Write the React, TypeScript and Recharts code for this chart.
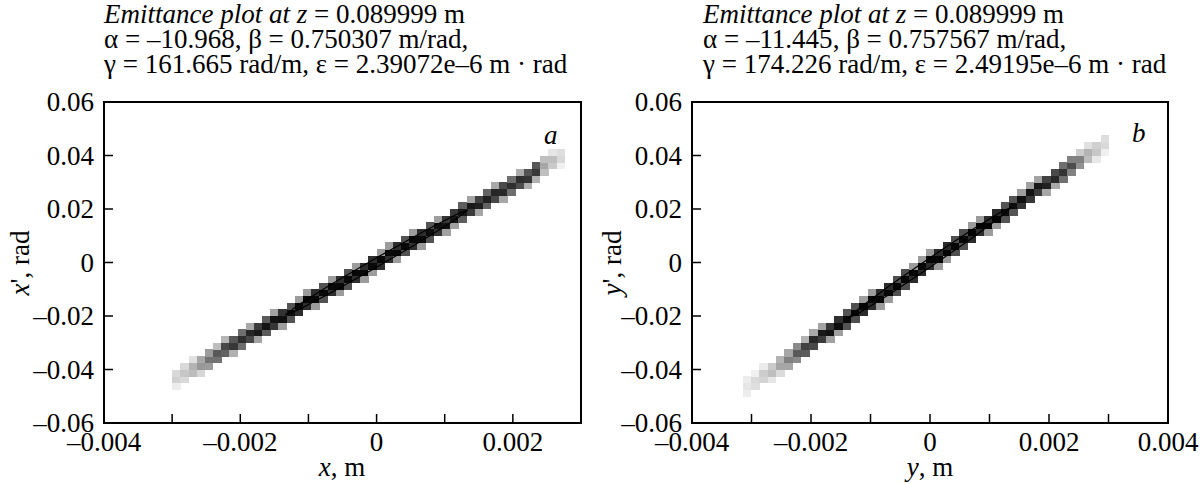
import React from 'react';
import { ScatterChart, Scatter, XAxis, YAxis, ReferenceArea } from 'recharts';

const FONT = '"Liberation Serif", "Times New Roman", serif';
const FS = 27;

// ---------- axes ----------
const yTicks = [-0.06, -0.04, -0.02, 0, 0.02, 0.04, 0.06];
const yLabels = ['–0.06', '–0.04', '–0.02', '0', '0.02', '0.04', '0.06'];
const leftXTicks = [-0.004, -0.003, -0.002, -0.001, 0, 0.001, 0.002, 0.003];
const leftXLabels = ['–0.004', '', '–0.002', '', '0', '', '0.002', ''];
const rightXTicks = [-0.004, -0.003, -0.002, -0.001, 0, 0.001, 0.002, 0.003, 0.004];
const rightXLabels = ['–0.004', '', '–0.002', '', '0', '', '0.002', '', '0.004'];

// ---------- density grid (row pitch in x') ----------
const ROW = 0.0025;

// left panel (x, x') columns
const leftColX = [
  -0.00294, -0.00282, -0.0027, -0.00258, -0.00246, -0.00234, -0.00222, -0.0021, -0.00198, -0.00186,
  -0.00174, -0.00162, -0.0015, -0.00138, -0.00126, -0.00114, -0.00102, -0.0009, -0.00078, -0.00066,
  -0.00054, -0.00042, -0.0003, -0.00018, -0.00006, 0.00006, 0.00018, 0.0003, 0.00042, 0.00054,
  0.00066, 0.00078, 0.0009, 0.00102, 0.00114, 0.00126, 0.00138, 0.0015, 0.00162, 0.00174,
  0.00186, 0.00198, 0.0021, 0.00222, 0.00234, 0.00246, 0.00258, 0.0027,
];
const leftColY0 = [
  -0.04625, -0.04375, -0.04125, -0.04125, -0.03875, -0.03625, -0.03375, -0.03375, -0.03125, -0.02875,
  -0.02875, -0.02625, -0.02375, -0.02375, -0.02125, -0.01875, -0.01625, -0.01625, -0.01375, -0.01125,
  -0.01125, -0.00875, -0.00625, -0.00625, -0.00375, -0.00125, 0.00125, 0.00125, 0.00375, 0.00625,
  0.00625, 0.00875, 0.01125, 0.01125, 0.01375, 0.01625, 0.01875, 0.01875, 0.02125, 0.02375,
  0.02375, 0.02625, 0.02875, 0.02875, 0.03125, 0.03375, 0.03625, 0.03625,
];
const leftShades = [
  [0.07, 0.18, 0.15], [0.15, 0.22, 0.15], [0.26, 0.3, 0.12], [0.16, 0.4, 0.34], [0.39, 0.55, 0.39],
  [0.55, 0.65, 0.26], [0.61, 0.72, 0.29], [0.31, 0.78, 0.66], [0.57, 0.82, 0.57], [0.72, 0.85, 0.34],
  [0.36, 0.9, 0.77], [0.64, 0.92, 0.64], [0.79, 0.93, 0.37], [0.38, 0.94, 0.8], [0.67, 0.95, 0.67],
  [0.82, 0.97, 0.39], [0.82, 0.97, 0.39], [0.39, 0.97, 0.82], [0.68, 0.97, 0.68], [0.82, 0.97, 0.39],
  [0.39, 0.97, 0.82], [0.68, 0.97, 0.68], [0.82, 0.97, 0.39], [0.39, 0.97, 0.82], [0.39, 0.97, 0.82],
  [0.82, 0.97, 0.39], [0.82, 0.97, 0.39], [0.39, 0.97, 0.82], [0.68, 0.97, 0.68], [0.82, 0.97, 0.39],
  [0.39, 0.97, 0.82], [0.67, 0.95, 0.67], [0.8, 0.94, 0.38], [0.37, 0.93, 0.79], [0.37, 0.92, 0.78],
  [0.63, 0.9, 0.63], [0.77, 0.9, 0.36], [0.35, 0.88, 0.75], [0.61, 0.87, 0.61], [0.72, 0.85, 0.34],
  [0.34, 0.84, 0.71], [0.57, 0.82, 0.57], [0.7, 0.82, 0.33], [0.32, 0.8, 0.68], [0.31, 0.78, 0.66],
  [0.25, 0.35, 0.25], [0.21, 0.25, 0.1], [0.06, 0.15, 0.13],
];

// right panel (y, y') columns
const rightColX = [
  -0.00308, -0.00294, -0.0028, -0.00266, -0.00252, -0.00238, -0.00224, -0.0021, -0.00196, -0.00182,
  -0.00168, -0.00154, -0.0014, -0.00126, -0.00112, -0.00098, -0.00084, -0.0007, -0.00056, -0.00042,
  -0.00028, -0.00014, 0, 0.00014, 0.00028, 0.00042, 0.00056, 0.0007, 0.00084, 0.00098,
  0.00112, 0.00126, 0.0014, 0.00154, 0.00168, 0.00182, 0.00196, 0.0021, 0.00224, 0.00238,
  0.00252, 0.00266, 0.0028, 0.00294,
];
const rightColY0 = [
  -0.04875, -0.04625, -0.04375, -0.04375, -0.04125, -0.03875, -0.03625, -0.03375, -0.03125, -0.02875,
  -0.02875, -0.02625, -0.02375, -0.02125, -0.01875, -0.01625, -0.01625, -0.01375, -0.01125, -0.00875,
  -0.00625, -0.00375, -0.00125, -0.00125, 0.00125, 0.00375, 0.00625, 0.00875, 0.01125, 0.01125,
  0.01375, 0.01625, 0.01875, 0.02125, 0.02375, 0.02625, 0.02625, 0.02875, 0.03125, 0.03375,
  0.03625, 0.03875, 0.03875, 0.04125,
];
const rightShades = [
  [0.07, 0.1, 0.07], [0.13, 0.15, 0.06], [0.17, 0.2, 0.08], [0.1, 0.25, 0.21], [0.14, 0.35, 0.3],
  [0.35, 0.5, 0.35], [0.46, 0.65, 0.46], [0.64, 0.75, 0.3], [0.71, 0.84, 0.34], [0.77, 0.9, 0.36],
  [0.37, 0.93, 0.79], [0.38, 0.95, 0.81], [0.67, 0.96, 0.67], [0.69, 0.98, 0.69], [0.83, 0.98, 0.39],
  [0.83, 0.98, 0.39], [0.39, 0.98, 0.83], [0.39, 0.98, 0.83], [0.69, 0.98, 0.69], [0.69, 0.98, 0.69],
  [0.83, 0.98, 0.39], [0.83, 0.98, 0.39], [0.83, 0.98, 0.39], [0.39, 0.98, 0.83], [0.39, 0.98, 0.83],
  [0.69, 0.98, 0.69], [0.69, 0.98, 0.69], [0.83, 0.98, 0.39], [0.83, 0.98, 0.39], [0.39, 0.98, 0.83],
  [0.39, 0.98, 0.83], [0.67, 0.96, 0.67], [0.67, 0.95, 0.67], [0.8, 0.94, 0.38], [0.78, 0.92, 0.37],
  [0.77, 0.9, 0.36], [0.35, 0.87, 0.74], [0.34, 0.84, 0.71], [0.56, 0.8, 0.56], [0.49, 0.7, 0.49],
  [0.43, 0.5, 0.2], [0.26, 0.3, 0.12], [0.09, 0.22, 0.19], [0.06, 0.15, 0.13],
];

// rms ellipses
const leftEllX = [0.001339, 0.00116, 0.00067, 0, -0.00067, -0.00116, -0.001339, -0.00116, -0.00067, 0, 0.00067, 0.00116, 0.001339];
const leftEllY = [0.019578, 0.016062, 0.008243, -0.001785, -0.011335, -0.017848, -0.019578, -0.016062, -0.008243, 0.001785, 0.011335, 0.017848, 0.019578];
const rightEllX = [0.001374, 0.00119, 0.000687, 0, -0.000687, -0.00119, -0.001374, -0.00119, -0.000687, 0, 0.000687, 0.00119, 0.001374];
const rightEllY = [0.020758, 0.01707, 0.008808, -0.001814, -0.01195, -0.018884, -0.020758, -0.01707, -0.008808, 0.001814, 0.01195, 0.018884, 0.020758];

function buildCells(xs: number[], y0s: number[], shades: number[][]) {
  const out: { x: number; y: number; d: number }[] = [];
  xs.forEach((x, i) =>
    shades[i].forEach((d, j) => {
      if (d > 0) out.push({ x, y: y0s[i] + j * ROW, d });
    })
  );
  return out;
}
const zip = (xs: number[], ys: number[]) => xs.map((x, i) => ({ x, y: ys[i] }));

const grey = (d: number) => {
  const v = Math.round(255 * (1 - d));
  return `rgb(${v},${v},${v})`;
};

const makeCellShape = (w: number, h: number) => (props: any) => {
  const { cx, cy, payload } = props;
  if (cx == null || cy == null) return <g />;
  return (
    <rect
      x={cx - w / 2}
      y={cy - h / 2}
      width={w + 0.4}
      height={h + 0.4}
      fill={grey(payload.d)}
      stroke="none"
      shapeRendering="crispEdges"
    />
  );
};

const makeXTick = (labels: string[]) => (props: any) => {
  const { x, y, index } = props;
  const lab = labels[index];
  return (
    <g>
      <line x1={x} x2={x} y1={y} y2={y - 9} stroke="#000" strokeWidth={1.5} />
      {lab ? (
        <text x={x} y={y + 28} textAnchor="middle" fontFamily={FONT} fontSize={FS} fill="#000">
          {lab}
        </text>
      ) : null}
    </g>
  );
};

const makeYTick = (labels: string[]) => (props: any) => {
  const { x, y, index } = props;
  const lab = labels[index];
  return (
    <g>
      <line x1={x} x2={x + 9} y1={y} y2={y} stroke="#000" strokeWidth={1.5} />
      <text x={x - 10} y={y + 9} textAnchor="end" fontFamily={FONT} fontSize={FS} fill="#000">
        {lab}
      </text>
    </g>
  );
};

const empty = () => <g />;

interface PanelProps {
  width: number;
  yAxisWidth: number;
  marginRight: number;
  xDomain: [number, number];
  xTicks: number[];
  xLabels: string[];
  cells: { x: number; y: number; d: number }[];
  ellipse: { x: number; y: number }[];
  cellW: number;
}

function Panel(p: PanelProps) {
  return (
    <ScatterChart width={p.width} height={484} margin={{ top: 102, right: p.marginRight, bottom: 0, left: 0 }}>
      <XAxis
        type="number"
        dataKey="x"
        domain={p.xDomain}
        ticks={p.xTicks}
        interval={0}
        allowDataOverflow
        axisLine={false}
        tickLine={false}
        tickSize={0}
        tickMargin={0}
        height={61}
        tick={makeXTick(p.xLabels)}
      />
      <YAxis
        type="number"
        dataKey="y"
        domain={[-0.06, 0.06]}
        ticks={yTicks}
        interval={0}
        allowDataOverflow
        axisLine={false}
        tickLine={false}
        tickSize={0}
        tickMargin={0}
        width={p.yAxisWidth}
        tick={makeYTick(yLabels)}
      />
      <Scatter data={p.cells} shape={makeCellShape(p.cellW, 6.67)} fill="#000" isAnimationActive={false} />
      <Scatter
        data={p.ellipse}
        shape={empty}
        fill="#000"
        line={{ stroke: '#000', strokeWidth: 1.2 }}
        isAnimationActive={false}
      />
      <ReferenceArea x1={p.xDomain[0]} x2={p.xDomain[1]} y1={-0.06} y2={0.06} fill="none" stroke="#000" strokeWidth={2} />
    </ScatterChart>
  );
}

const leftCells = buildCells(leftColX, leftColY0, leftShades);
const rightCells = buildCells(rightColX, rightColY0, rightShades);

const txt: React.CSSProperties = {
  position: 'absolute',
  fontFamily: FONT,
  fontSize: FS,
  lineHeight: '24px',
  whiteSpace: 'nowrap',
  color: '#000',
};

function Title({ left, a, b, g, e }: { left: number; a: string; b: string; g: string; e: string }) {
  return (
    <div style={{ ...txt, left, top: 2, lineHeight: '25px' }}>
      <i>Emittance plot at z</i> = 0.089999 m
      <br />
      α = {a}, β = {b} m/rad,
      <br />
      γ = {g} rad/m, ε = {e} m · rad
    </div>
  );
}

export default function App() {
  return (
    <div style={{ position: 'absolute', left: 0, top: 0, width: 1204, height: 484, background: '#fff', overflow: 'hidden' }}>
      <div style={{ position: 'absolute', left: 0, top: 0 }}>
        <Panel
          width={600}
          yAxisWidth={104}
          marginRight={19}
          xDomain={[-0.004, 0.003]}
          xTicks={leftXTicks}
          xLabels={leftXLabels}
          cells={leftCells}
          ellipse={zip(leftEllX, leftEllY)}
          cellW={8.1}
        />
      </div>
      <div style={{ position: 'absolute', left: 600, top: 0 }}>
        <Panel
          width={604}
          yAxisWidth={92}
          marginRight={36}
          xDomain={[-0.004, 0.004]}
          xTicks={rightXTicks}
          xLabels={rightXLabels}
          cells={rightCells}
          ellipse={zip(rightEllX, rightEllY)}
          cellW={8.3}
        />
      </div>

      <Title left={104} a="–10.968" b="0.750307" g="161.665" e="2.39072e–6" />
      <Title left={703} a="–11.445" b="0.757567" g="174.226" e="2.49195e–6" />

      <div style={{ ...txt, lineHeight: '20px', left: 342, top: 457, transform: 'translateX(-50%)' }}>
        <i>x</i>, m
      </div>
      <div style={{ ...txt, lineHeight: '20px', left: 930, top: 457, transform: 'translateX(-50%)' }}>
        <i>y</i>, m
      </div>
      <div style={{ ...txt, left: 20, top: 263, transform: 'translate(-50%, -50%) rotate(-90deg)' }}>
        <i>x</i>', rad
      </div>
      <div style={{ ...txt, left: 612, top: 263, transform: 'translate(-50%, -50%) rotate(-90deg)' }}>
        <i>y</i>', rad
      </div>
      <div style={{ ...txt, left: 544, top: 123 }}>
        <i>a</i>
      </div>
      <div style={{ ...txt, left: 1132, top: 121 }}>
        <i>b</i>
      </div>
    </div>
  );
}
